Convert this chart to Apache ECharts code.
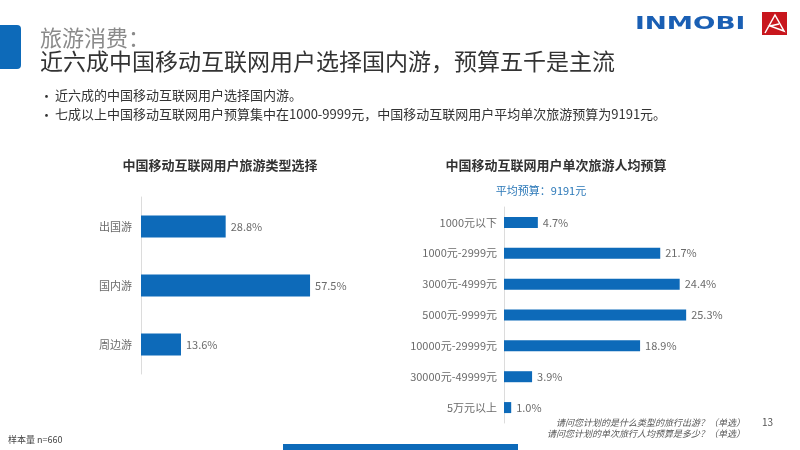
<!DOCTYPE html>
<html><head><meta charset="utf-8">
<script src="https://cdn.jsdelivr.net/npm/echarts@6/dist/echarts.min.js"></script>
<style>html,body{margin:0;padding:0;background:#fff}#c{width:800px;height:450px}</style>
</head><body><div id="c"></div>
<script>
const typeCategories = ['出国游', '国内游', '周边游'];
const typeValues = [28.8, 57.5, 13.6];
const budgetCategories = ['1000元以下', '1000元-2999元', '3000元-4999元', '5000元-9999元', '10000元-29999元', '30000元-49999元', '5万元以上'];
const budgetValues = [4.7, 21.7, 24.4, 25.3, 18.9, 3.9, 1.0];

const FONT = '"Noto Sans CJK SC", "Noto Sans", sans-serif';
const BLUE = '#0d6ab9';
const chart = echarts.init(document.getElementById('c'), null, {renderer: 'canvas'});

const catAxis = (idx, data, margin) => ({
  type: 'category', gridIndex: idx, data: data, inverse: true,
  axisLine: {show: true, lineStyle: {color: '#dcdcdc', width: 1}},
  axisTick: {show: false},
  axisLabel: {color: '#6b6b6b', fontSize: 11, fontFamily: FONT, margin: margin}
});
const valAxis = (idx, max) => ({
  type: 'value', gridIndex: idx, min: 0, max: max, show: false, splitLine: {show: false}
});
const barSeries = (idx, data, w) => ({
  type: 'bar', xAxisIndex: idx, yAxisIndex: idx, data: data, barWidth: w,
  itemStyle: {color: BLUE},
  label: {show: true, position: 'right', distance: 5, color: '#6b6b6b', fontSize: 11,
    fontFamily: FONT, formatter: p => p.value.toFixed(1) + '%'},
  silent: true
});

chart.setOption({
  animation: false,
  grid: [
    {left: 141, top: 197, width: 294, height: 177},
    {left: 504, top: 207, width: 216, height: 216}
  ],
  xAxis: [valAxis(0, 100), valAxis(1, 30)],
  yAxis: [catAxis(0, typeCategories, 9), catAxis(1, budgetCategories, 7)],
  series: [barSeries(0, typeValues, 22), barSeries(1, budgetValues, 11)],
  graphic: [
    {type: 'rect', shape: {x: -6, y: 25, width: 27, height: 44, r: [0, 4, 4, 0]}, style: {fill: BLUE}},
    {type: 'text', x: 40, y: 27, style: {text: '旅游消费：', fontSize: 22, fill: '#8a8a8a', fontFamily: FONT}},
    {type: 'text', x: 40, y: 50, style: {text: '近六成中国移动互联网用户选择国内游，预算五千是主流', fontSize: 23, fill: '#333333', fontFamily: FONT}},
    {type: 'text', x: 40, y: 90, style: {text: '•', fontSize: 13, fill: '#333', fontFamily: FONT}},
    {type: 'text', x: 55, y: 89, style: {text: '近六成的中国移动互联网用户选择国内游。', fontSize: 13, fill: '#333', fontFamily: FONT}},
    {type: 'text', x: 40, y: 109, style: {text: '•', fontSize: 13, fill: '#333', fontFamily: FONT}},
    {type: 'text', x: 55, y: 108, style: {text: '七成以上中国移动互联网用户预算集中在1000-9999元，中国移动互联网用户平均单次旅游预算为9191元。', fontSize: 13, fill: '#333', fontFamily: FONT}},
    {type: 'text', x: 220, y: 165, style: {text: '中国移动互联网用户旅游类型选择', fontSize: 13, fontWeight: 'bold', fill: '#333', fontFamily: FONT, align: 'center', verticalAlign: 'middle'}},
    {type: 'text', x: 556, y: 165, style: {text: '中国移动互联网用户单次旅游人均预算', fontSize: 13, fontWeight: 'bold', fill: '#333', fontFamily: FONT, align: 'center', verticalAlign: 'middle'}},
    {type: 'text', x: 541, y: 191, style: {text: '平均预算：9191元', fontSize: 11, fill: '#2b78b8', fontFamily: FONT, align: 'center', verticalAlign: 'middle'}},
    {type: 'text', x: 745, y: 423, style: {text: '请问您计划的是什么类型的旅行出游？（单选）', fontSize: 9, fontStyle: 'italic', fill: '#555', fontFamily: FONT, align: 'right', verticalAlign: 'middle'}},
    {type: 'text', x: 745, y: 434, style: {text: '请问您计划的单次旅行人均预算是多少？（单选）', fontSize: 9, fontStyle: 'italic', fill: '#555', fontFamily: FONT, align: 'right', verticalAlign: 'middle'}},
    {type: 'text', x: 762, y: 422, style: {text: '13', fontSize: 10, fill: '#555', fontFamily: FONT, verticalAlign: 'middle'}},
    {type: 'text', x: 8, y: 440, style: {text: '样本量 n=660', fontSize: 9, fill: '#444', fontFamily: FONT, verticalAlign: 'middle'}},
    {type: 'rect', shape: {x: 283, y: 444, width: 235, height: 10}, style: {fill: BLUE}},
    {type: 'text', x: 635, y: 25, scaleX: 1.55, originX: 0, originY: 0, style: {text: 'INMOBI', fontSize: 17, fontWeight: 'bold', fill: '#1a5fb4', fontFamily: '"DejaVu Sans", sans-serif', verticalAlign: 'middle'}},
    {type: 'rect', shape: {x: 762, y: 12, width: 25, height: 23}, style: {fill: '#c8161d'}},
    {type: 'polyline', shape: {points: [[765, 33], [775, 15], [784, 31], [770, 26], [779, 24]]}, style: {stroke: '#fff', lineWidth: 1.5, fill: null}}
  ]
});
</script></body></html>
